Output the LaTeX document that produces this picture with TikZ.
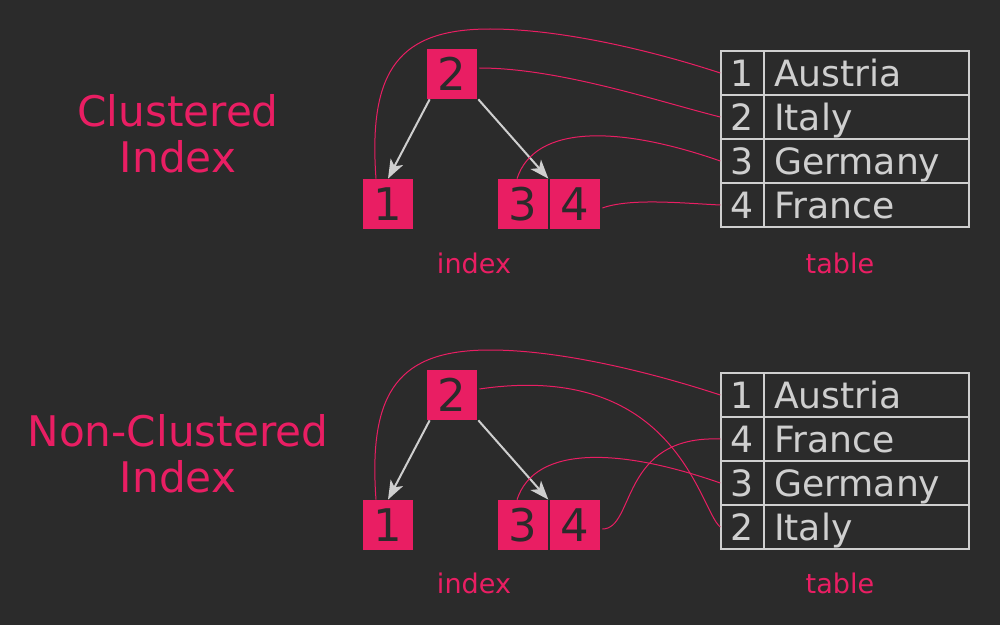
\documentclass[tikz,border=0pt]{standalone}
\usepackage{fontspec}
\setmainfont{DejaVu Sans}
\usetikzlibrary{arrows.meta,calc}
\definecolor{bg}{HTML}{2B2B2B}
\definecolor{pinkish}{HTML}{E91E63}
\definecolor{pale}{HTML}{CFCFCF}

\begin{document}
\begin{tikzpicture}[x=0.02cm, y=-0.02cm]
\tikzset{ >={Stealth[length=0.38cm,width=0.28cm,inset=0.1cm]},
  idx/.style={fill=pinkish, text=bg, minimum size=1cm, inner sep=0pt, text height=0.656cm, text depth=0pt, font=\fontsize{25.6}{30}\selectfont},
  rowid/.style={draw=pale, line width=0.03cm, minimum width=0.86cm, minimum height=0.88cm, inner sep=0pt, text=pale, text height=0.525cm, text depth=0pt, font=\fontsize{20.6}{24}\selectfont},
  country/.style={rowid, minimum width=4.1cm, text width=3.7cm, align=left, inner xsep=0.2cm},
  ptr/.style={pinkish, line width=0.02cm},
  edgeline/.style={->, pale, line width=0.04cm},
  heading/.style={pinkish, align=center, font=\fontsize{24}{25.9}\selectfont},
  tag/.style={pinkish, font=\fontsize{15.4}{18}\selectfont},
}

\fill [bg] (0,0) rectangle (1000,625);

% clustered
\node [heading] (TC) at (178,134) {Clustered\\Index};

\node [idx] (C2) at (452,74)  {2};
\node [idx] (C1) at (388,204) {1};
\node [idx] (C3) at (523,204) {3};
\node [idx] (C4) at (575,204) {4};

\draw [edgeline] ($(C2.south west)+(3,0)$) -- (C1.north);
\draw [edgeline] ($(C2.south east)+(1,0)$) -- (C3.north east);

\node [rowid] (CT1) at (742.5,73)  {1};
\node [rowid] (CT2) at (742.5,117) {2};
\node [rowid] (CT3) at (742.5,161) {3};
\node [rowid] (CT4) at (742.5,205) {4};
\node [country] (CN1) at (866.5,73)  {Austria};
\node [country] (CN2) at (866.5,117) {Italy};
\node [country] (CN3) at (866.5,161) {Germany};
\node [country] (CN4) at (866.5,205) {France};

\draw [ptr] ($(C1.north)+(-12,0)$) .. controls +(-8,-110) and +(-90,0) .. (490,29) .. controls +(70,0) and +(-70,-23) .. (CT1.west);
\draw [ptr] ($(C2.east)+(2,-6)$) .. controls +(80,0) and +(-60,-15) .. (CT2.west);
\draw [ptr] ($(C3.north)+(-6,0)$) .. controls +(18,-55) and +(-100,-35) .. (CT3.west);
\draw [ptr] ($(C4.east)+(2,4)$) .. controls +(28,-10) and +(-40,-2) .. (CT4.west);

\node [tag] (CI) at (474,263) {index};
\node [tag] (CT) at (840,263) {table};

% non-clustered
\node [heading] (TN) at (178,454) {Non-Clustered\\Index};

\node [idx] (N2) at (452,395) {2};
\node [idx] (N1) at (388,525) {1};
\node [idx] (N3) at (523,525) {3};
\node [idx] (N4) at (575,525) {4};

\draw [edgeline] ($(N2.south west)+(3,0)$) -- (N1.north);
\draw [edgeline] ($(N2.south east)+(1,0)$) -- (N3.north east);

\node [rowid] (NT1) at (742.5,395) {1};
\node [rowid] (NT2) at (742.5,439) {4};
\node [rowid] (NT3) at (742.5,483) {3};
\node [rowid] (NT4) at (742.5,527) {2};
\node [country] (NN1) at (866.5,395) {Austria};
\node [country] (NN2) at (866.5,439) {France};
\node [country] (NN3) at (866.5,483) {Germany};
\node [country] (NN4) at (866.5,527) {Italy};

\draw [ptr] ($(N1.north)+(-12,0)$) .. controls +(-8,-110) and +(-90,0) .. (490,350) .. controls +(70,0) and +(-70,-23) .. (NT1.west);
\draw [ptr] ($(N2.east)+(2,-6)$) .. controls +(198,-29) and +(-21,-17) .. (NT4.west);
\draw [ptr] ($(N3.north)+(-6,0)$) .. controls +(18,-55) and +(-100,-35) .. (NT3.west);
\draw [ptr] ($(N4.east)+(2,4)$) .. controls +(33,0) and +(-101,-4) .. (NT2.west);

\node [tag] (NI) at (474,583) {index};
\node [tag] (NT) at (840,583) {table};

\end{tikzpicture}
\end{document}
